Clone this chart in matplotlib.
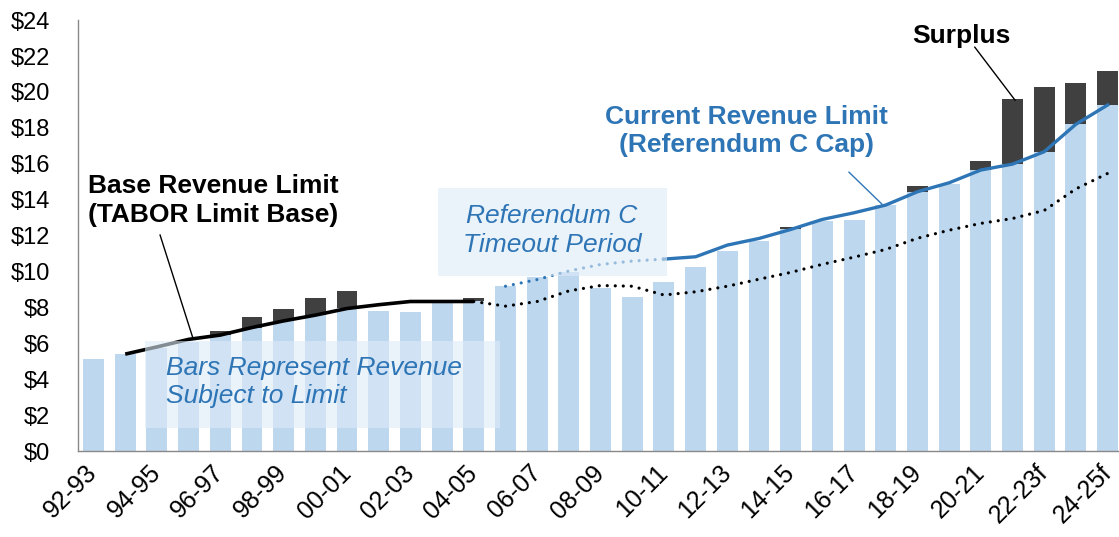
import matplotlib

matplotlib.use("Agg")
import matplotlib.pyplot as plt  # noqa: E402
import numpy as np  # noqa: E402
from matplotlib.patches import Rectangle  # noqa: E402
from matplotlib.ticker import FuncFormatter, MultipleLocator  # noqa: E402

plt.rcParams["font.family"] = ["Liberation Sans", "DejaVu Sans"]

BAR = "#BDD7EE"
SURPLUS = "#404040"
BLUE = "#2E75B6"
BOX = "#DDEBF7"

years = [
    "92-93", "93-94", "94-95", "95-96", "96-97", "97-98", "98-99", "99-00",
    "00-01", "01-02", "02-03", "03-04", "04-05", "05-06", "06-07", "07-08",
    "08-09", "09-10", "10-11", "11-12", "12-13", "13-14", "14-15", "15-16",
    "16-17", "17-18", "18-19", "19-20", "20-21", "21-22", "22-23f", "23-24f",
    "24-25f",
]

# revenue subject to the limit ($ billions), full bar height
revenue = [
    5.10, 5.40, 5.75, 6.10, 6.68, 7.44, 7.92, 8.50, 8.89, 7.78, 7.72, 8.22,
    8.50, 9.18, 9.67, 9.98, 9.10, 8.60, 9.43, 10.27, 11.14, 11.70, 12.50,
    12.82, 12.86, 13.70, 14.77, 14.90, 16.15, 19.60, 20.25, 20.47, 21.15,
]

nan = np.nan
# base revenue limit (TABOR limit base), solid part 93-94 .. 04-05
base_limit = [
    nan, 5.40, 5.80, 6.22, 6.46, 6.88, 7.25, 7.57, 7.94, 8.15, 8.33, 8.33,
    8.33,
] + [nan] * 20
# TABOR base carried forward (dotted), 04-05 .. 24-25f
tabor_base = [nan] * 12 + [
    8.33, 8.07, 8.33, 8.92, 9.22, 9.18, 8.69, 8.87, 9.18, 9.57, 9.95, 10.40,
    10.80, 11.23, 11.85, 12.30, 12.68, 12.95, 13.40, 14.60, 15.46,
]
# Referendum C timeout period (dotted blue), 05-06 .. 10-11
timeout = [nan] * 13 + [9.18, 9.55, 10.03, 10.39, 10.58, 10.69] + [nan] * 14
# current revenue limit (Referendum C cap), 10-11 .. 24-25f
refc_cap = [nan] * 18 + [
    10.69, 10.82, 11.47, 11.84, 12.34, 12.90, 13.27, 13.70, 14.44, 14.94,
    15.65, 15.98, 16.67, 18.20, 19.27,
]

x = np.arange(len(years))
rev = np.array(revenue)
limit = np.where(np.isnan(base_limit), refc_cap, base_limit)
below = np.where(np.isnan(limit), rev, np.minimum(rev, limit))
surplus = rev - below

fig = plt.figure(figsize=(11.19, 5.37), dpi=100)
ax = fig.add_axes([0.0697, 0.160, 0.9303, 0.8026])

ax.bar(x, below, width=0.66, color=BAR, zorder=1)
ax.bar(x, surplus, width=0.66, bottom=below, color=SURPLUS, zorder=1)

ax.plot(x, base_limit, color="black", lw=2.6, zorder=3, solid_capstyle="butt")
ax.plot(x, refc_cap, color=BLUE, lw=2.4, zorder=3)
dots = (0, (0.01, 2.5))
ax.plot(x, tabor_base, color="black", lw=2.3, ls=dots, dash_capstyle="round", zorder=3)
ax.plot(x, timeout, color=BLUE, lw=2.3, ls=dots, dash_capstyle="round", zorder=3)

# translucent note boxes sit over bars and lines
ax.add_patch(Rectangle((1.61, 1.28), 11.23, 4.84, facecolor=BOX, alpha=0.6,
                       lw=0, zorder=4))
ax.add_patch(Rectangle((10.88, 9.74), 7.22, 4.90, facecolor=BOX, alpha=0.6,
                       lw=0, zorder=4))

FS = 19
ax.text(2.29, 3.84, "Bars Represent Revenue\nSubject to Limit", color=BLUE,
        style="italic", fontsize=FS, ha="left", va="center", zorder=5,
        linespacing=1.25)
ax.text(14.47, 12.3, "Referendum C\nTimeout Period", color=BLUE,
        style="italic", fontsize=FS, ha="center", va="center", zorder=5,
        linespacing=1.25)

ax.text(-0.17, 13.97, "Base Revenue Limit\n(TABOR Limit Base)", color="black",
        fontweight="bold", fontsize=FS, ha="left", va="center", zorder=5,
        linespacing=1.25)
ax.plot([2.10, 3.14], [12.03, 6.27], color="black", lw=1.0, zorder=3)

ax.text(20.6, 17.82, "Current Revenue Limit\n(Referendum C Cap)", color=BLUE,
        fontweight="bold", fontsize=FS, ha="center", va="center", zorder=5,
        linespacing=1.25)
ax.plot([23.84, 24.88], [15.53, 13.75], color=BLUE, lw=1.0, zorder=3)

ax.text(27.39, 23.1, "Surplus", color="black", fontweight="bold",
        fontsize=FS, ha="center", va="center", zorder=5)
ax.plot([27.81, 29.08], [22.49, 19.54], color="black", lw=1.0, zorder=3)

ax.set_xlim(-0.49, 32.36)
ax.set_ylim(0, 24)
ax.yaxis.set_major_locator(MultipleLocator(2))
ax.yaxis.set_major_formatter(FuncFormatter(lambda v, _: f"${v:.0f}"))
ax.set_xticks(x[::2])
ax.set_xticklabels(years[::2], rotation=45, ha="right", va="center",
                   rotation_mode="anchor")
ax.tick_params(axis="y", length=0, pad=20, labelsize=17)
ax.tick_params(axis="x", length=0, pad=13, labelsize=18)

for side in ("top", "right"):
    ax.spines[side].set_visible(False)
for side in ("left", "bottom"):
    ax.spines[side].set_color("#898989")
    ax.spines[side].set_linewidth(1.0)
    ax.spines[side].set_zorder(6)

fig.savefig("out.png", dpi=100)
